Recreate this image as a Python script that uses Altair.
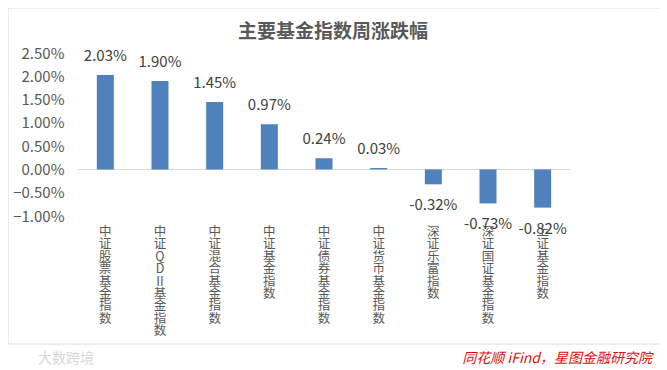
import re
import altair as alt
import pandas as pd

categories = ["中证股票基金指数", "中证QDII基金指数", "中证混合基金指数", "中证基金指数",
              "中证债券基金指数", "中证货币基金指数", "深证乐富指数", "深证国证基金指数", "上证基金指数"]
values = [0.0203, 0.0190, 0.0145, 0.0097, 0.0024, 0.0003, -0.0032, -0.0073, -0.0082]
y_ticks = [-0.01, -0.005, 0.0, 0.005, 0.01, 0.015, 0.02, 0.025]
title_text = "主要基金指数周涨跌幅"
source_text = "同花顺 iFind，星图金融研究院"
watermark_text = "大数跨境"

FONT = "Noto Sans CJK SC"
W, H = 492, 163

df = pd.DataFrame({"cat": categories, "val": values})
df["vlabel"] = ["\n".join(re.findall(r"II|.", c)) for c in categories]
df["txt"] = [f"{v*100:.2f}%" for v in values]

x_enc = alt.X("cat:N", sort=categories, axis=None,
              scale=alt.Scale(paddingInner=0.0, paddingOuter=0.0))
y_scale = alt.Scale(domain=[-0.01, 0.025], nice=False, zero=False)
y_axis = alt.Axis(values=y_ticks, format=".2%", title=None, domain=False, ticks=False,
                  grid=False, labelFont=FONT, labelFontSize=15, labelColor="#595959",
                  labelPadding=14, labelOverlap=False, labelBound=False)
y_enc = alt.Y("val:Q", scale=y_scale, axis=y_axis)

base = alt.Chart(df)

frame = alt.Chart(pd.DataFrame({"a": [0]})).mark_rect(
    fillOpacity=0, stroke="#d9d9d9", strokeWidth=1
).encode(x=alt.value(-70), x2=alt.value(583), y=alt.value(-45), y2=alt.value(291))

bars = base.mark_bar(size=17, color="#4f81bd").encode(x=x_enc, y=y_enc)

zero = alt.Chart(pd.DataFrame({"val": [0.0]})).mark_rule(color="#d9d9d9", strokeWidth=1).encode(
    y=y_enc
)

pos_lbl = base.transform_filter("datum.val >= 0").mark_text(
    font=FONT, fontSize=15, color="#404040", baseline="middle", dy=-19
).encode(x=x_enc, y=y_enc, text="txt:N")

neg_lbl = base.transform_filter("datum.val < 0").mark_text(
    font=FONT, fontSize=15, color="#404040", baseline="middle", dy=21
).encode(x=x_enc, y=y_enc, text="txt:N")

cat_lbl = base.mark_text(
    font=FONT, fontSize=12.5, color="#595959", baseline="top", lineBreak="\n", lineHeight=12.4
).encode(x=x_enc, y=alt.value(173), text="vlabel:N")

title = alt.Chart(pd.DataFrame({"t": [title_text]})).mark_text(
    font=FONT, fontSize=19, fontWeight="bold", color="#595959", baseline="middle", align="center"
).encode(x=alt.value(255), y=alt.value(-21), text="t:N")

source = alt.Chart(pd.DataFrame({"t": [source_text]})).mark_text(
    font=FONT, fontSize=14, fontStyle="italic", color="#e01010", baseline="middle", align="right"
).encode(x=alt.value(574), y=alt.value(306), text="t:N")

watermark = alt.Chart(pd.DataFrame({"t": [watermark_text]})).mark_text(
    font=FONT, fontSize=14, color="#d8d8d8", baseline="middle", align="left"
).encode(x=alt.value(-40), y=alt.value(306), text="t:N")

chart = alt.layer(frame, zero, bars, pos_lbl, neg_lbl, cat_lbl, title, source, watermark).properties(
    width=W, height=H,
    autosize=alt.AutoSizeParams(type="none"),
    padding={"left": 70, "top": 45, "right": 89, "bottom": 154},
    background="white",
).configure_view(strokeWidth=0)

chart.save("out.html", embed_options={"renderer": "svg", "actions": False})
